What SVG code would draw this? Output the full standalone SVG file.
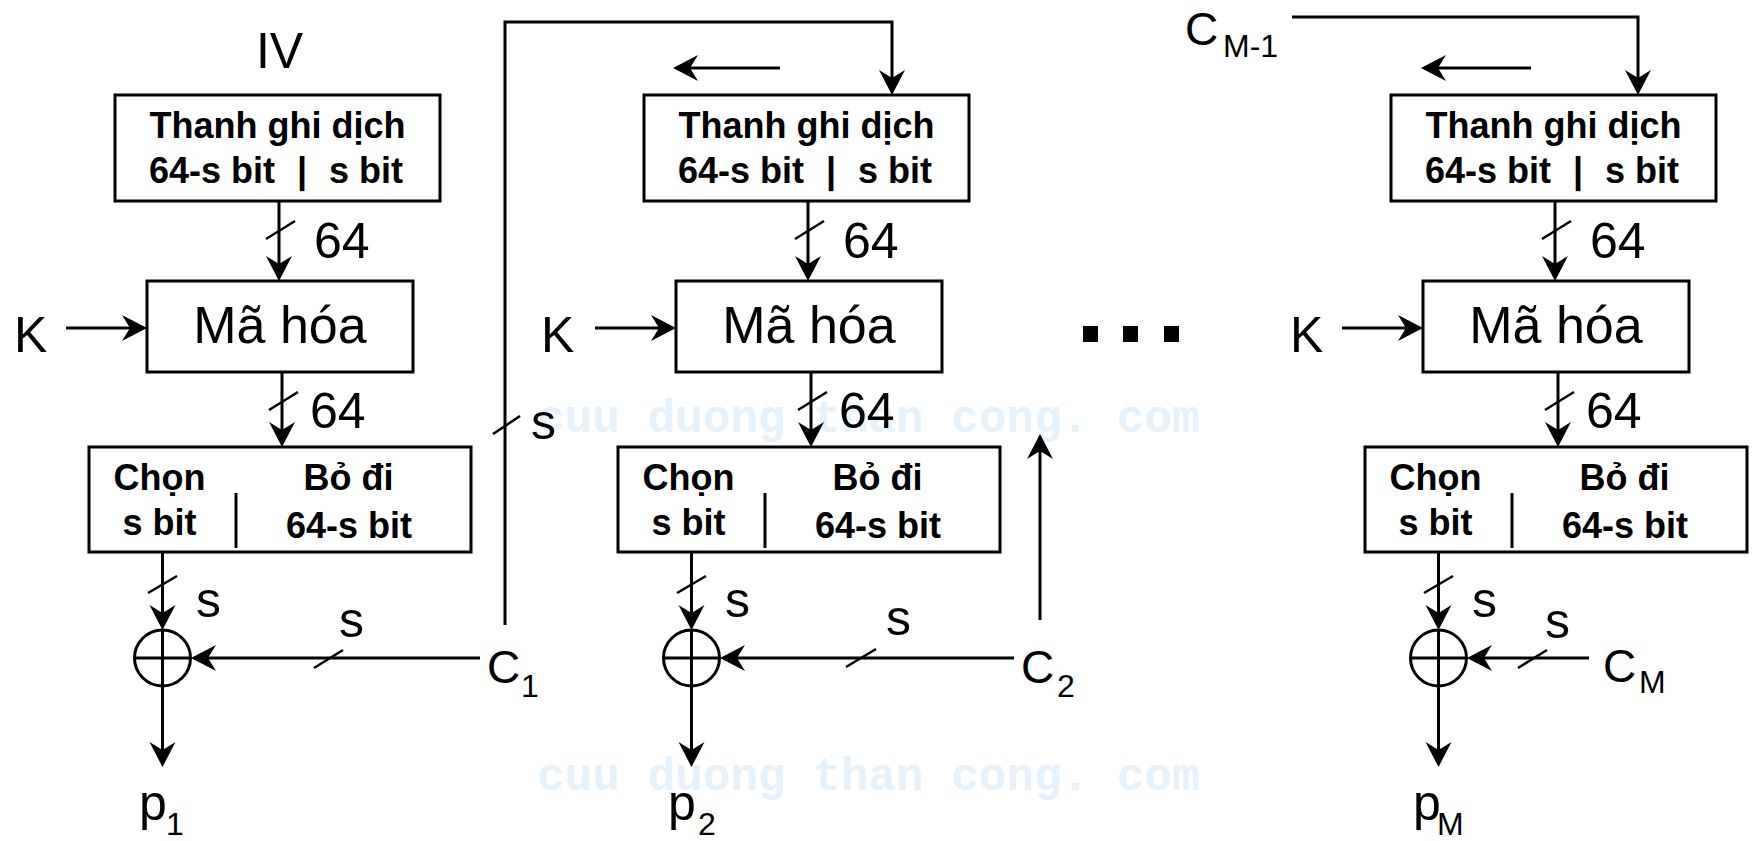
<svg xmlns="http://www.w3.org/2000/svg" width="1752" height="841" viewBox="0 0 1752 841">
<style>
.ln{stroke:#000;stroke-width:3;fill:none}
.sl{stroke:#000;stroke-width:2.5;fill:none}
.box{stroke:#000;stroke-width:3;fill:#fff}
.t{font-family:"Liberation Sans",Arial,sans-serif;fill:#000}
.big{font-size:50px}
.enc{font-size:52px}
.b{font-size:36px;font-weight:bold}
.sub{font-size:32px}
.wm{font-family:"Liberation Mono","DejaVu Sans Mono",monospace;font-weight:bold;font-size:46px;fill:#e5f1fb}
.arr{marker-end:url(#ah)}
</style>
<defs>
<marker id="ah" markerUnits="userSpaceOnUse" viewBox="-28 -15 32 30" refX="-3" refY="0" markerWidth="32" markerHeight="30" orient="auto" overflow="visible">
<path d="M0,0 L-25,-13 L-17,0 L-25,13 Z" fill="#000"/>
</marker>
</defs>
<rect width="1752" height="841" fill="#fff"/>
<g id="watermark">
<text class="wm" x="537" y="432">cuu duong than cong. com</text>
<text class="wm" x="537" y="790">cuu duong than cong. com</text>
</g>
<g id="connectors">
<line class="ln arr" x1="66" y1="328" x2="144" y2="328"/>
<line class="ln arr" x1="279" y1="201" x2="279" y2="278"/>
<line class="sl" x1="266" y1="239" x2="295" y2="221"/>
<line class="ln arr" x1="282" y1="372" x2="282" y2="444"/>
<line class="sl" x1="269" y1="410" x2="298" y2="392"/>
<line class="ln arr" x1="162.5" y1="552" x2="162.5" y2="627"/>
<line class="sl" x1="148" y1="593" x2="177" y2="576"/>
<line class="ln arr" x1="480" y1="658" x2="194" y2="658"/>
<line class="sl" x1="314" y1="668" x2="343" y2="650"/>
<line class="ln arr" x1="162.5" y1="686" x2="162.5" y2="764"/>
<polyline class="ln arr" points="505,625 505,22 892,22 892,92"/>
<line class="sl" x1="493" y1="434" x2="520" y2="416"/>
<line class="ln arr" x1="780" y1="68" x2="676" y2="68"/>
<line class="ln arr" x1="595" y1="328" x2="673" y2="328"/>
<line class="ln arr" x1="808" y1="201" x2="808" y2="278"/>
<line class="sl" x1="795" y1="239" x2="824" y2="221"/>
<line class="ln arr" x1="811" y1="372" x2="811" y2="444"/>
<line class="sl" x1="798" y1="410" x2="827" y2="392"/>
<line class="ln arr" x1="691.5" y1="552" x2="691.5" y2="627"/>
<line class="sl" x1="677" y1="593" x2="706" y2="576"/>
<line class="ln arr" x1="1014" y1="658" x2="723" y2="658"/>
<line class="sl" x1="846" y1="667" x2="876" y2="649"/>
<line class="ln arr" x1="691.5" y1="686" x2="691.5" y2="764"/>
<line class="ln arr" x1="1040" y1="620" x2="1040" y2="437"/>
<polyline class="ln arr" points="1292,17 1638,17 1638,92"/>
<line class="ln arr" x1="1531" y1="68" x2="1424" y2="68"/>
<line class="ln arr" x1="1342" y1="328" x2="1420" y2="328"/>
<line class="ln arr" x1="1555" y1="201" x2="1555" y2="278"/>
<line class="sl" x1="1542" y1="239" x2="1571" y2="221"/>
<line class="ln arr" x1="1558" y1="372" x2="1558" y2="444"/>
<line class="sl" x1="1545" y1="410" x2="1574" y2="392"/>
<line class="ln arr" x1="1438.5" y1="552" x2="1438.5" y2="627"/>
<line class="sl" x1="1424" y1="593" x2="1453" y2="576"/>
<line class="ln arr" x1="1589" y1="658" x2="1470" y2="658"/>
<line class="sl" x1="1518" y1="668" x2="1547" y2="650"/>
<line class="ln arr" x1="1438.5" y1="686" x2="1438.5" y2="764"/>
</g>
<g id="connector-labels">
<text class="t big" x="314" y="258">64</text>
<text class="t big" x="310" y="428">64</text>
<text class="t big" x="196" y="617">s</text>
<text class="t big" x="339" y="637">s</text>
<text class="t big" x="531" y="439">s</text>
<text class="t big" x="843" y="258">64</text>
<text class="t big" x="839" y="428">64</text>
<text class="t big" x="725" y="617">s</text>
<text class="t big" x="886" y="635">s</text>
<text class="t big" x="1590" y="258">64</text>
<text class="t big" x="1586" y="428">64</text>
<text class="t big" x="1472" y="617">s</text>
<text class="t big" x="1545" y="638">s</text>
</g>
<g id="iv"><text class="t big" x="279.5" y="68" text-anchor="middle">IV</text></g>
<g id="shift1">
<rect class="box" x="115" y="95" width="325" height="106"/>
<text class="t b" x="277.5" y="138" text-anchor="middle">Thanh ghi dịch</text>
<text class="t b" x="275" y="183" text-anchor="end">64-s bit</text>
<text class="t b" x="302" y="183" text-anchor="middle">|</text>
<text class="t b" x="329" y="183">s bit</text>
</g>
<g id="enc1">
<rect class="box" x="147" y="281" width="266" height="91"/>
<text class="t enc" x="280" y="343" text-anchor="middle">Mã hóa</text>
</g>
<g id="k1"><text class="t big" x="14" y="352">K</text></g>
<g id="sel1">
<rect class="box" x="89" y="447" width="382" height="105"/>
<line class="ln" x1="236" y1="493" x2="236" y2="548"/>
<text class="t b" x="159.5" y="490" text-anchor="middle">Chọn</text>
<text class="t b" x="159.5" y="535" text-anchor="middle">s bit</text>
<text class="t b" x="348.5" y="490" text-anchor="middle">Bỏ đi</text>
<text class="t b" x="349" y="538" text-anchor="middle">64-s bit</text>
</g>
<g id="xor1">
<circle class="ln" cx="162.5" cy="658" r="28"/>
<line class="ln" x1="134.5" y1="658" x2="190.5" y2="658"/>
<line class="ln" x1="162.5" y1="630" x2="162.5" y2="686"/>
</g>
<g id="c1"><text class="t" font-size="46" x="487" y="683">C</text><text class="t sub" x="521" y="697">1</text></g>
<g id="p1"><text class="t big" x="139" y="820">p</text><text class="t sub" x="166" y="835">1</text></g>

<g id="shift2">
<rect class="box" x="644" y="95" width="325" height="106"/>
<text class="t b" x="806.5" y="138" text-anchor="middle">Thanh ghi dịch</text>
<text class="t b" x="804" y="183" text-anchor="end">64-s bit</text>
<text class="t b" x="831" y="183" text-anchor="middle">|</text>
<text class="t b" x="858" y="183">s bit</text>
</g>
<g id="enc2">
<rect class="box" x="676" y="281" width="266" height="91"/>
<text class="t enc" x="809" y="343" text-anchor="middle">Mã hóa</text>
</g>
<g id="k2"><text class="t big" x="541" y="352">K</text></g>
<g id="sel2">
<rect class="box" x="618" y="447" width="382" height="105"/>
<line class="ln" x1="765" y1="493" x2="765" y2="548"/>
<text class="t b" x="688.5" y="490" text-anchor="middle">Chọn</text>
<text class="t b" x="688.5" y="535" text-anchor="middle">s bit</text>
<text class="t b" x="877.5" y="490" text-anchor="middle">Bỏ đi</text>
<text class="t b" x="878" y="538" text-anchor="middle">64-s bit</text>
</g>
<g id="xor2">
<circle class="ln" cx="691.5" cy="658" r="28"/>
<line class="ln" x1="663.5" y1="658" x2="719.5" y2="658"/>
<line class="ln" x1="691.5" y1="630" x2="691.5" y2="686"/>
</g>
<g id="c2"><text class="t" font-size="46" x="1021" y="683">C</text><text class="t sub" x="1057" y="697">2</text></g>
<g id="p2"><text class="t big" x="668" y="820">p</text><text class="t sub" x="698" y="835">2</text></g>

<g id="ellipsis">
<rect x="1083" y="326" width="15" height="16" fill="#000"/>
<rect x="1123" y="326" width="15" height="16" fill="#000"/>
<rect x="1164" y="326" width="15" height="16" fill="#000"/>
</g>

<g id="cm1"><text class="t" font-size="46" x="1185" y="45">C</text><text class="t sub" x="1223" y="57">M-1</text></g>
<g id="shift3">
<rect class="box" x="1391" y="95" width="325" height="106"/>
<text class="t b" x="1553.5" y="138" text-anchor="middle">Thanh ghi dịch</text>
<text class="t b" x="1551" y="183" text-anchor="end">64-s bit</text>
<text class="t b" x="1578" y="183" text-anchor="middle">|</text>
<text class="t b" x="1605" y="183">s bit</text>
</g>
<g id="enc3">
<rect class="box" x="1423" y="281" width="266" height="91"/>
<text class="t enc" x="1556" y="343" text-anchor="middle">Mã hóa</text>
</g>
<g id="k3"><text class="t big" x="1290" y="352">K</text></g>
<g id="sel3">
<rect class="box" x="1365" y="447" width="382" height="105"/>
<line class="ln" x1="1512" y1="493" x2="1512" y2="548"/>
<text class="t b" x="1435.5" y="490" text-anchor="middle">Chọn</text>
<text class="t b" x="1435.5" y="535" text-anchor="middle">s bit</text>
<text class="t b" x="1624.5" y="490" text-anchor="middle">Bỏ đi</text>
<text class="t b" x="1625" y="538" text-anchor="middle">64-s bit</text>
</g>
<g id="xor3">
<circle class="ln" cx="1438.5" cy="658" r="28"/>
<line class="ln" x1="1410.5" y1="658" x2="1466.5" y2="658"/>
<line class="ln" x1="1438.5" y1="630" x2="1438.5" y2="686"/>
</g>
<g id="cm"><text class="t" font-size="46" x="1603" y="682">C</text><text class="t sub" x="1639" y="693">M</text></g>
<g id="pm"><text class="t big" x="1413" y="820">p</text><text class="t sub" x="1437" y="835">M</text></g>
</svg>
